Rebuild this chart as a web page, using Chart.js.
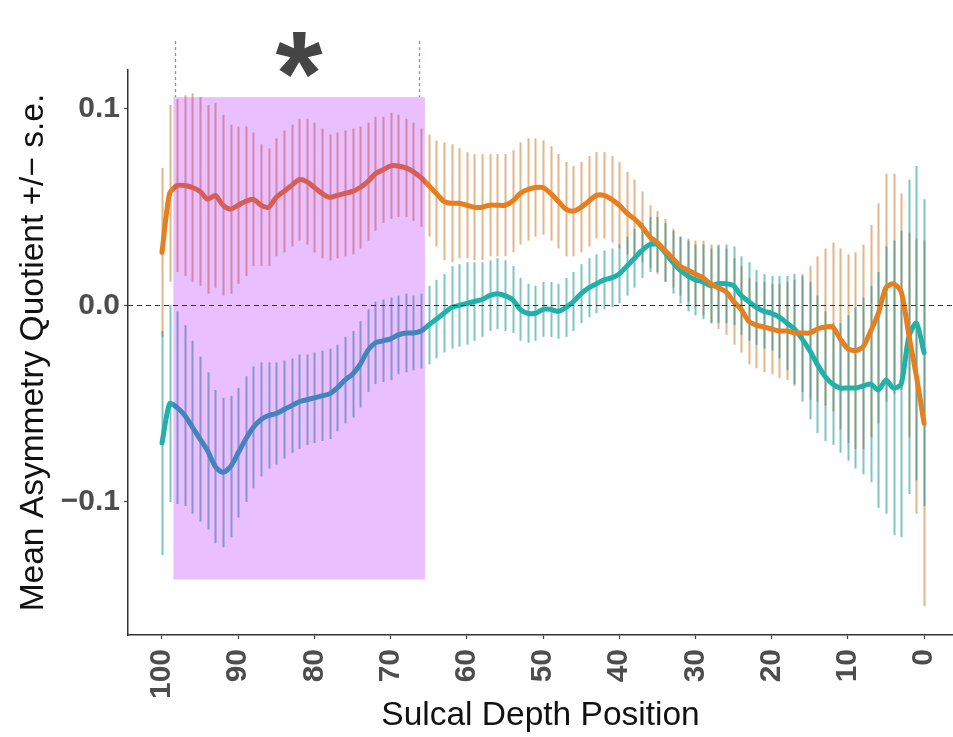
<!DOCTYPE html>
<html>
<head>
<meta charset="utf-8">
<script src="https://cdn.jsdelivr.net/npm/chart.js@4.4.1/dist/chart.umd.min.js"></script>
<style>
  html, body { margin: 0; padding: 0; background: #ffffff; }
  #wrap { width: 953px; height: 737px; position: relative; }
</style>
</head>
<body>
<div id="wrap"><canvas id="c" width="953" height="737"></canvas></div>
<script>
// ---- Data ----
const POSITIONS = [100,99,98,97,96,95,94,93,92,91,90,89,88,87,86,85,84,83,82,81,80,79,78,77,76,75,74,73,72,71,70,69,68,67,66,65,64,63,62,61,60,59,58,57,56,55,54,53,52,51,50,49,48,47,46,45,44,43,42,41,40,39,38,37,36,35,34,33,32,31,30,29,28,27,26,25,24,23,22,21,20,19,18,17,16,15,14,13,12,11,10,9,8,7,6,5,4,3,2,1,0];

const ORANGE_MEAN = [0.027,0.057,0.061,0.061,0.060,0.058,0.054,0.056,0.051,0.049,
  0.051,0.053,0.054,0.051,0.050,0.055,0.058,0.061,0.064,0.063,
  0.060,0.057,0.055,0.056,0.057,0.058,0.060,0.063,0.067,0.069,
  0.071,0.071,0.070,0.068,0.065,0.061,0.057,0.053,0.052,0.052,
  0.051,0.050,0.050,0.051,0.051,0.051,0.053,0.057,0.059,0.060,
  0.060,0.057,0.053,0.049,0.048,0.050,0.053,0.056,0.056,0.054,
  0.051,0.047,0.044,0.040,0.035,0.032,0.028,0.024,0.020,0.018,
  0.016,0.014,0.011,0.009,0.007,0.002,-0.002,-0.008,-0.010,-0.011,
  -0.012,-0.013,-0.013,-0.014,-0.014,-0.014,-0.012,-0.011,-0.011,-0.017,
  -0.022,-0.023,-0.021,-0.013,-0.004,0.009,0.011,0.007,-0.015,-0.036,-0.060];

const ORANGE_SE = [0.043,0.045,0.044,0.046,0.048,0.048,0.048,0.047,0.046,0.043,
  0.040,0.038,0.034,0.031,0.030,0.030,0.031,0.031,0.031,0.032,
  0.033,0.033,0.032,0.032,0.032,0.032,0.031,0.030,0.029,0.027,
  0.027,0.026,0.025,0.025,0.025,0.026,0.027,0.030,0.030,0.028,
  0.027,0.027,0.027,0.026,0.026,0.026,0.026,0.026,0.026,0.025,
  0.024,0.024,0.024,0.024,0.023,0.023,0.023,0.022,0.022,0.022,
  0.022,0.021,0.020,0.018,0.016,0.016,0.016,0.015,0.015,0.016,
  0.017,0.019,0.020,0.021,0.022,0.022,0.022,0.022,0.022,0.023,
  0.023,0.024,0.025,0.027,0.030,0.034,0.037,0.040,0.043,0.046,
  0.048,0.050,0.052,0.054,0.056,0.058,0.056,0.050,0.052,0.070,0.093];

const TEAL_MEAN = [-0.070,-0.050,-0.052,-0.056,-0.062,-0.068,-0.074,-0.082,-0.085,-0.082,
  -0.075,-0.068,-0.062,-0.058,-0.056,-0.055,-0.053,-0.051,-0.049,-0.048,
  -0.047,-0.046,-0.045,-0.042,-0.038,-0.035,-0.030,-0.023,-0.019,-0.018,
  -0.017,-0.015,-0.014,-0.014,-0.013,-0.010,-0.007,-0.004,-0.001,0.000,
  0.001,0.002,0.003,0.005,0.006,0.005,0.003,-0.002,-0.004,-0.004,
  -0.002,-0.002,-0.003,-0.001,0.002,0.006,0.009,0.011,0.013,0.014,
  0.016,0.020,0.024,0.028,0.031,0.031,0.027,0.022,0.018,0.015,
  0.013,0.012,0.010,0.011,0.011,0.010,0.005,0.002,-0.001,-0.003,
  -0.004,-0.006,-0.009,-0.012,-0.017,-0.023,-0.030,-0.036,-0.040,-0.042,
  -0.042,-0.042,-0.041,-0.040,-0.043,-0.038,-0.042,-0.040,-0.016,-0.009,-0.024];

const TEAL_SE = [0.057,0.050,0.049,0.046,0.044,0.042,0.040,0.039,0.038,0.036,
  0.033,0.032,0.031,0.029,0.027,0.026,0.025,0.024,0.024,0.023,
  0.023,0.023,0.023,0.022,0.022,0.022,0.022,0.021,0.021,0.021,
  0.021,0.020,0.020,0.019,0.019,0.020,0.020,0.020,0.021,0.021,
  0.021,0.020,0.019,0.018,0.018,0.018,0.017,0.016,0.015,0.014,
  0.014,0.014,0.014,0.015,0.015,0.015,0.015,0.015,0.015,0.015,
  0.015,0.015,0.015,0.014,0.014,0.014,0.015,0.016,0.017,0.018,
  0.018,0.019,0.019,0.020,0.020,0.020,0.020,0.020,0.019,0.019,
  0.019,0.021,0.024,0.028,0.032,0.035,0.035,0.033,0.031,0.033,
  0.037,0.041,0.045,0.050,0.060,0.068,0.075,0.078,0.080,0.080,0.078];

const X_TICKS = [100, 90, 80, 70, 60, 50, 40, 30, 20, 10, 0];
const Y_TICKS = [-0.1, 0.0, 0.1];
const Y_TICK_LABELS = ['\u22120.1', '0.0', '0.1'];

// significant region (highlighted box) and its marker
const BOX_POS = [98.5, 65.5];
const BOX_VAL = [-0.1395, 0.106];
const MARK_POS = [98.3, 66.3];
const MARK_VAL_TOP = 0.1345;
const STAR_POS = 82;
const STAR_VAL = 0.1275;

const X_RANGE = [-3.8, 104.46];
const Y_RANGE = [-0.1677, 0.1198];

// ---- Styles ----
const FONT = '"Liberation Sans", Arial, Helvetica, sans-serif';
const ORANGE = 'rgb(229,127,32)';
const TEAL = 'rgb(34,176,170)';
const ORANGE_BAR = 'rgba(205,120,40,0.55)';
const TEAL_BAR = 'rgba(20,150,150,0.55)';
const BOX_FILL = 'rgba(168,0,248,0.25)';

const toPoints = (ys) => POSITIONS.map((p, i) => ({ x: p, y: ys[i] }));

const overlayPlugin = {
  id: 'overlay',
  beforeDatasetsDraw(chart) {
    const { ctx, scales: { x, y } } = chart;
    const series = [
      { m: ORANGE_MEAN, s: ORANGE_SE, c: ORANGE_BAR },
      { m: TEAL_MEAN, s: TEAL_SE, c: TEAL_BAR }
    ];
    ctx.save();
    ctx.lineWidth = 2;
    series.forEach(ser => {
      ctx.strokeStyle = ser.c;
      POSITIONS.forEach((p, i) => {
        const px = Math.round(x.getPixelForValue(p)) + 0.5;
        ctx.beginPath();
        ctx.moveTo(px, y.getPixelForValue(ser.m[i] - ser.s[i]));
        ctx.lineTo(px, y.getPixelForValue(ser.m[i] + ser.s[i]));
        ctx.stroke();
      });
    });
    ctx.restore();
  },
  afterDatasetsDraw(chart) {
    const { ctx, chartArea, scales: { x, y } } = chart;
    ctx.save();
    // highlighted region
    const x0 = x.getPixelForValue(BOX_POS[0]);
    const x1 = x.getPixelForValue(BOX_POS[1]);
    const y0 = y.getPixelForValue(BOX_VAL[1]);
    const y1 = y.getPixelForValue(BOX_VAL[0]);
    ctx.fillStyle = BOX_FILL;
    ctx.fillRect(x0, y0, x1 - x0, y1 - y0);
    // zero reference line
    ctx.strokeStyle = '#333333';
    ctx.lineWidth = 1.2;
    ctx.setLineDash([5, 4]);
    const yz = Math.round(y.getPixelForValue(0)) + 0.5;
    ctx.beginPath();
    ctx.moveTo(chartArea.left, yz);
    ctx.lineTo(chartArea.right, yz);
    ctx.stroke();
    // dotted markers above the box
    ctx.strokeStyle = 'rgba(225,80,80,0.85)';
    ctx.lineWidth = 1.3;
    ctx.setLineDash([3, 3]);
    MARK_POS.forEach(p => {
      const px = Math.round(x.getPixelForValue(p)) + 0.5;
      ctx.beginPath();
      ctx.moveTo(px, y.getPixelForValue(MARK_VAL_TOP));
      ctx.lineTo(px, y0);
      ctx.stroke();
    });
    ctx.setLineDash([]);
    // asterisk
    ctx.font = 'bold 100px ' + FONT;
    const m = ctx.measureText('*');
    const gh = m.actualBoundingBoxAscent + m.actualBoundingBoxDescent;
    const size = 100 * 46 / gh;
    ctx.font = 'bold ' + size.toFixed(1) + 'px ' + FONT;
    const m2 = ctx.measureText('*');
    const cy = y.getPixelForValue(STAR_VAL);
    const cx = x.getPixelForValue(STAR_POS);
    ctx.fillStyle = '#454545';
    ctx.textAlign = 'center';
    ctx.textBaseline = 'alphabetic';
    const base = cy + (m2.actualBoundingBoxAscent - m2.actualBoundingBoxDescent) / 2;
    ctx.fillText('*', cx, base);
    ctx.restore();
  }
};

new Chart(document.getElementById('c'), {
  type: 'line',
  data: {
    datasets: [
      { label: 'Orange', data: toPoints(ORANGE_MEAN), borderColor: ORANGE, borderWidth: 5,
        pointRadius: 0, tension: 0.25, fill: false, borderCapStyle: 'round', borderJoinStyle: 'round' },
      { label: 'Teal', data: toPoints(TEAL_MEAN), borderColor: TEAL, borderWidth: 5,
        pointRadius: 0, tension: 0.25, fill: false, borderCapStyle: 'round', borderJoinStyle: 'round' }
    ]
  },
  options: {
    responsive: false,
    animation: false,
    devicePixelRatio: 1,
    layout: { padding: { top: 70, left: 0, right: 0, bottom: 0 }, autoPadding: false },
    plugins: { legend: { display: false }, tooltip: { enabled: false } },
    scales: {
      x: {
        type: 'linear',
        reverse: true,
        min: X_RANGE[0],
        max: X_RANGE[1],
        afterBuildTicks: (s) => { s.ticks = X_TICKS.map(v => ({ value: v })); },
        afterFit: (s) => { s.height = 102; s.paddingLeft = 0; s.paddingRight = 0; s.paddingTop = 0; s.paddingBottom = 0; },
        grid: { display: true, drawOnChartArea: false, drawTicks: true, tickLength: 4, color: '#444', tickWidth: 1.2 },
        border: { display: true, color: '#333', width: 1.5 },
        ticks: {
          minRotation: 90, maxRotation: 90, autoSkip: false, padding: 10,
          color: '#4d4d4d', font: { family: FONT, size: 30, weight: 'bold' },
          callback: (v) => String(v)
        },
        title: { display: true, text: 'Sulcal Depth Position', color: '#111',
          font: { family: FONT, size: 33.5 }, padding: { top: 0, bottom: 1 } }
      },
      y: {
        type: 'linear',
        min: Y_RANGE[0],
        max: Y_RANGE[1],
        afterBuildTicks: (s) => { s.ticks = Y_TICKS.map(v => ({ value: v })); },
        afterFit: (s) => { s.width = 128; s.paddingLeft = 0; s.paddingRight = 0; s.paddingTop = 0; s.paddingBottom = 0; },
        grid: { display: true, drawOnChartArea: false, drawTicks: true, tickLength: 4, color: '#444', tickWidth: 1.2 },
        border: { display: true, color: '#333', width: 1.5 },
        ticks: {
          padding: 4, autoSkip: false,
          color: '#4d4d4d', font: { family: FONT, size: 30, weight: 'bold' },
          callback: (v) => { const i = Y_TICKS.findIndex(t => Math.abs(t - v) < 1e-9); return i >= 0 ? Y_TICK_LABELS[i] : ''; }
        },
        title: { display: true, text: 'Mean Asymmetry Quotient +/\u2212 s.e.', color: '#111',
          font: { family: FONT, size: 33.5 }, padding: { top: 14, bottom: 0 } }
      }
    }
  },
  plugins: [overlayPlugin]
});
</script>
</body>
</html>
